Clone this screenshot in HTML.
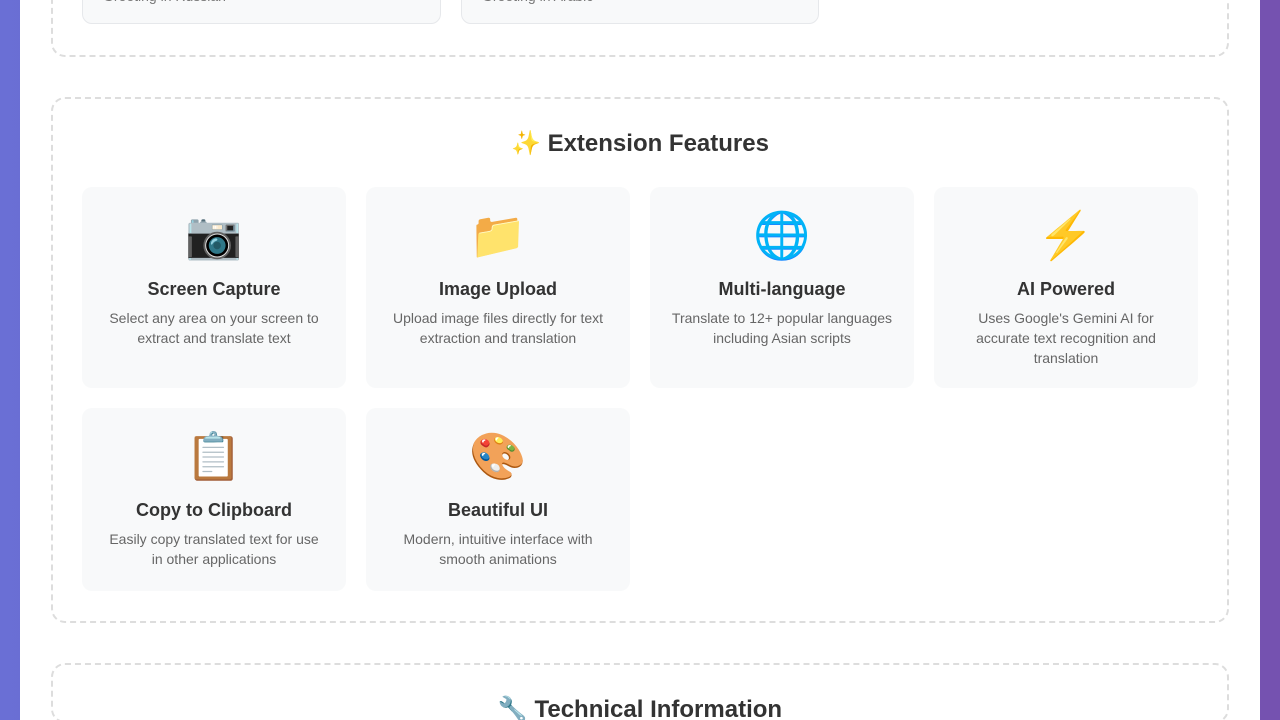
<!DOCTYPE html>
<html style="width:1280px;height:720px;overflow:hidden"><head><meta charset="utf-8"><style>
*{box-sizing:border-box;margin:0;padding:0}
html,body{width:1280px;height:720px;overflow:hidden}
body{background:linear-gradient(90deg,#6a6fd5,#7552b0);font-family:"Liberation Sans","DejaVu Sans",sans-serif;position:relative}
.page{position:absolute;left:20px;top:0;width:1240px;height:720px;background:#fff;overflow:hidden}
.sec{position:absolute;left:31px;width:1178px;border:2px dashed #dddddd;border-radius:14px}
.card{position:absolute;background:#f8f9fa;border-radius:10px;text-align:center}
.card .ic{position:absolute;left:0;right:0;top:21px;font-size:46px;line-height:56px;font-family:"Noto Color Emoji","DejaVu Sans",sans-serif}
.card h3{position:absolute;left:0;right:0;top:92px;font-size:18px;font-weight:bold;color:#333}
.card p{position:absolute;left:20px;right:20px;top:121px;font-size:14px;line-height:20px;color:#666}
.top{position:absolute;top:-20px;height:44px;background:#f8f9fa;border:1px solid #e6e8eb;border-radius:10px;color:#777;font-size:14px;padding:7px 20px}
h2{position:absolute;left:0;right:0;text-align:center;font-size:24px;font-weight:bold;color:#333}
</style></head><body>
<div class="page">
<div class="sec" style="top:-40px;height:97px"></div>
<div class="top" style="left:62px;width:359px">Greeting in Russian</div>
<div class="top" style="left:441px;width:358px">Greeting in Arabic</div>

<div class="sec" style="top:97px;height:526px"></div>
<h2 style="top:129px">✨ Extension Features</h2>
<div class="card" style="left:62px;top:187px;width:264px;height:201px"><div class="ic">📷</div><h3>Screen Capture</h3><p>Select any area on your screen to extract and translate text</p></div>
<div class="card" style="left:346px;top:187px;width:264px;height:201px"><div class="ic">📁</div><h3>Image Upload</h3><p>Upload image files directly for text extraction and translation</p></div>
<div class="card" style="left:630px;top:187px;width:264px;height:201px"><div class="ic">🌐</div><h3>Multi-language</h3><p>Translate to 12+ popular languages including Asian scripts</p></div>
<div class="card" style="left:914px;top:187px;width:264px;height:201px"><div class="ic">⚡</div><h3>AI Powered</h3><p>Uses Google's Gemini AI for accurate text recognition and translation</p></div>
<div class="card" style="left:62px;top:408px;width:264px;height:183px"><div class="ic">📋</div><h3>Copy to Clipboard</h3><p>Easily copy translated text for use in other applications</p></div>
<div class="card" style="left:346px;top:408px;width:264px;height:183px"><div class="ic">🎨</div><h3>Beautiful UI</h3><p>Modern, intuitive interface with smooth animations</p></div>

<div class="sec" style="top:663px;height:60px"></div>
<h2 style="top:695px">🔧 Technical Information</h2>
</div>
</body></html>
